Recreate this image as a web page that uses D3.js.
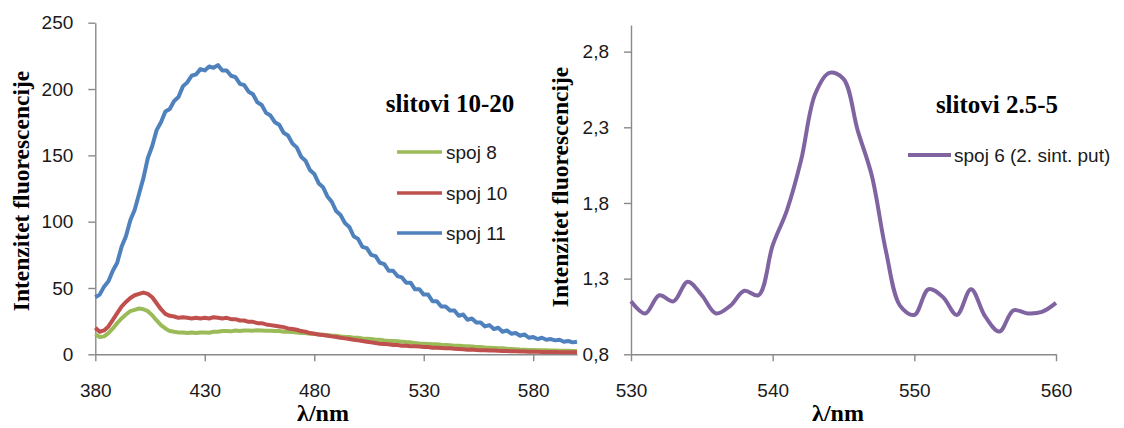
<!DOCTYPE html>
<html>
<head>
<meta charset="utf-8">
<script src="https://cdn.jsdelivr.net/npm/d3@7"></script>
<style>
  html, body { margin: 0; padding: 0; background: #fff; }
  svg { display: block; }
</style>
</head>
<body>
<svg id="chart" width="1124" height="428"></svg>
<script>
// ---------- DATA ----------
// Left chart (slitovi 10-20): wavelength grid 380..600 nm, 2 nm step
const leftWavelengths = d3.range(380, 601, 2);
const spoj8 = [15,13,13.5,16,19.5,23.5,27,30,32.5,33.5,34.5,34,32.5,29.5,25.5,22,19.5,17.5,17,16.5,
  16.5,16,16.5,16,16.5,16.5,16.3,17,17,17.5,17.5,17.3,18,17.5,18,18,17.8,18.2,18,17.8,
  17.8,17.5,17.5,17,17,16.8,16.5,16,16,15.5,15.5,15,14.8,14.5,14,14,13.5,13.2,13,12.5,
  12.5,12,11.8,11.5,11,11,10.5,10.2,10,9.8,9.5,9.2,9,8.5,8.2,8,7.8,7.5,7.5,7.2,
  7,6.8,6.5,6.5,6.2,6,5.8,5.5,5.5,5.2,5,4.8,4.5,4.5,4.2,4,3.8,3.6,3.5,3.3,
  3.2,3.1,3,3,2.9,2.8,2.7,2.6,2.6,2.5,2.5];
const spoj10 = [20,17,18,21,26,31,36,39.5,42.5,44.5,45.5,46.5,45.5,43,38.5,34,30.5,29,28.5,27.5,
  28,27.5,27,27.5,27,27.5,27,28,27.5,27,27.5,26.5,26.5,25.5,25.5,24.5,24.5,23.5,23.5,22.5,
  22,21.5,21,20.5,19.5,19,18.5,17.5,17,16,15.5,15,14.5,14,13.5,13,12.5,12,11.5,11,
  10.5,10,9.5,9,8.5,8,7.8,7.5,7,7,6.5,6.5,6,6,5.8,5.5,5.5,5,5,4.8,
  4.5,4.5,4.2,4,3.8,3.5,3.6,3.2,3,3,2.8,2.8,2.6,2.5,2.4,2.3,2.3,2.2,2.1,2,
  2,1.9,1.8,1.8,1.7,1.7,1.6,1.6,1.5,1.5,1.5];
const spoj11 = [43,45,51,55,63,69,81,89,101,109,121,133,148,157,169,175,183,185,191,194,
  202,205,210,211,215,214,217,216,218,214,214,210,209,204,203,198,196,190,188,182,
  180,175,173,167,165,159,156,149,146,139,136,129,126,119,115,108,105,99,96,89,
  87,81,80,75,74,69,68,63,63,59,58,54,54,49,49,45,45,40,40,36,
  36,33,33,29,30,26,27,24,24,21,22,19,20,17,18,15.5,16,14,15,12.5,
  13,11.5,12.5,11,11.5,10.5,11,9.5,10,9,9.5];
const leftXTicks = [380, 430, 480, 530, 580];
const leftYTicks = [0, 50, 100, 150, 200, 250];
const leftSeriesNames = ["spoj 8", "spoj 10", "spoj 11"];

// Right chart (slitovi 2.5-5)
const rightWavelengths = [530,531,532,533,534,535,536,537,538,539,540,541,542,543,544,545,546,547,548,549,550,551,552,553,554,555,556,557,558,559,560];
const spoj6 = [1.15,1.07,1.19,1.15,1.28,1.19,1.07,1.12,1.22,1.19,1.52,1.75,2.08,2.52,2.66,2.62,2.28,1.98,1.48,1.12,1.06,1.23,1.18,1.06,1.23,1.05,0.95,1.09,1.07,1.08,1.14];
const rightXTicks = [530, 540, 550, 560];
const rightYTicks = [0.8, 1.3, 1.8, 2.3, 2.8];
const rightSeriesName = "spoj 6 (2. sint. put)";

// ---------- STYLE ----------
const colors = { spoj8: "#9BBB59", spoj10: "#C0504D", spoj11: "#4F81BD", spoj6: "#8064A2" };
const axisColor = "#898989";
const textColor = "#1a1a1a";
const sansFont = "'Liberation Sans', Arial, sans-serif";
const serifFont = "'Liberation Serif', 'Times New Roman', serif";

const svg = d3.select("#chart");
svg.append("rect").attr("width", 1124).attr("height", 428).attr("fill", "#fff");

function styleAxis(g) {
  g.selectAll("path.domain").attr("stroke", axisColor).attr("stroke-width", 1.4);
  g.selectAll(".tick line").attr("stroke", axisColor).attr("stroke-width", 1.4);
  g.selectAll(".tick text").attr("fill", textColor)
    .style("font-family", sansFont).style("font-size", "19px");
}

// ---------- LEFT CHART ----------
const xL = d3.scaleLinear().domain([380, 600]).range([95.3, 577]);
const yL = d3.scaleLinear().domain([0, 250]).range([354.3, 22.7]);

const gLy = svg.append("g").attr("transform", `translate(${xL(380)},0)`)
  .call(d3.axisLeft(yL).tickValues(leftYTicks).tickSize(7).tickSizeOuter(0).tickPadding(15));
styleAxis(gLy);
const gLx = svg.append("g").attr("transform", `translate(0,${yL(0)})`)
  .call(d3.axisBottom(xL).tickValues(leftXTicks).tickSize(7).tickSizeOuter(0).tickPadding(22.5));
styleAxis(gLx);

const lineL = d3.line().x((d, i) => xL(leftWavelengths[i])).y(d => yL(d));
[["spoj8", spoj8], ["spoj10", spoj10], ["spoj11", spoj11]].forEach(([k, arr]) => {
  svg.append("path").datum(arr).attr("d", lineL)
    .attr("fill", "none").attr("stroke", colors[k]).attr("stroke-width", 4)
    .attr("stroke-linejoin", "round");
});

// Left titles
svg.append("text").attr("x", 450).attr("y", 112).attr("text-anchor", "middle")
  .style("font-family", serifFont).style("font-weight", "bold").style("font-size", "25px")
  .attr("fill", "#000").text("slitovi 10-20");

const legendY = [152, 193, 233];
const legendKeys = ["spoj8", "spoj10", "spoj11"];
leftSeriesNames.forEach((name, i) => {
  svg.append("line").attr("x1", 397).attr("x2", 442).attr("y1", legendY[i]).attr("y2", legendY[i])
    .attr("stroke", colors[legendKeys[i]]).attr("stroke-width", 3.6);
  svg.append("text").attr("x", 446).attr("y", legendY[i]).attr("dy", "0.35em")
    .style("font-family", sansFont).style("font-size", "19px").attr("fill", textColor).text(name);
});

svg.append("text").attr("x", 323).attr("y", 421).attr("text-anchor", "middle")
  .style("font-family", serifFont).style("font-weight", "bold").style("font-size", "24px")
  .attr("fill", "#000").text("λ/nm");
svg.append("text").attr("transform", "translate(29,191) rotate(-90)").attr("text-anchor", "middle")
  .style("font-family", serifFont).style("font-weight", "bold").style("font-size", "23.5px")
  .attr("fill", "#000").text("Intenzitet fluorescencije");

// ---------- RIGHT CHART ----------
const xR = d3.scaleLinear().domain([530, 560]).range([631, 1056]);
const yR = d3.scaleLinear().domain([0.8, 2.976]).range([354.3, 25]);
const commaFmt = d => d3.format(".1f")(d).replace(".", ",");

const gRy = svg.append("g").attr("transform", `translate(${xR(530)},0)`)
  .call(d3.axisLeft(yR).tickValues(rightYTicks).tickFormat(commaFmt).tickSize(7).tickSizeOuter(0).tickPadding(15));
styleAxis(gRy);
const gRx = svg.append("g").attr("transform", `translate(0,${yR(0.8)})`)
  .call(d3.axisBottom(xR).tickValues(rightXTicks).tickSize(7).tickSizeOuter(0).tickPadding(22.5));
styleAxis(gRx);

const lineR = d3.line().x((d, i) => xR(rightWavelengths[i])).y(d => yR(d))
  .curve(d3.curveCatmullRom.alpha(0.5));
svg.append("path").datum(spoj6).attr("d", lineR)
  .attr("fill", "none").attr("stroke", colors.spoj6).attr("stroke-width", 4)
  .attr("stroke-linejoin", "round");

svg.append("text").attr("x", 997).attr("y", 113).attr("text-anchor", "middle")
  .style("font-family", serifFont).style("font-weight", "bold").style("font-size", "25px")
  .attr("fill", "#000").text("slitovi 2.5-5");
svg.append("line").attr("x1", 908).attr("x2", 951).attr("y1", 155).attr("y2", 155)
  .attr("stroke", colors.spoj6).attr("stroke-width", 4);
svg.append("text").attr("x", 954).attr("y", 155).attr("dy", "0.35em")
  .style("font-family", sansFont).style("font-size", "19px").attr("fill", textColor).text(rightSeriesName);

svg.append("text").attr("x", 838).attr("y", 421).attr("text-anchor", "middle")
  .style("font-family", serifFont).style("font-weight", "bold").style("font-size", "24px")
  .attr("fill", "#000").text("λ/nm");
svg.append("text").attr("transform", "translate(568,187) rotate(-90)").attr("text-anchor", "middle")
  .style("font-family", serifFont).style("font-weight", "bold").style("font-size", "23.5px")
  .attr("fill", "#000").text("Intenzitet fluorescencije");
</script>
</body>
</html>
